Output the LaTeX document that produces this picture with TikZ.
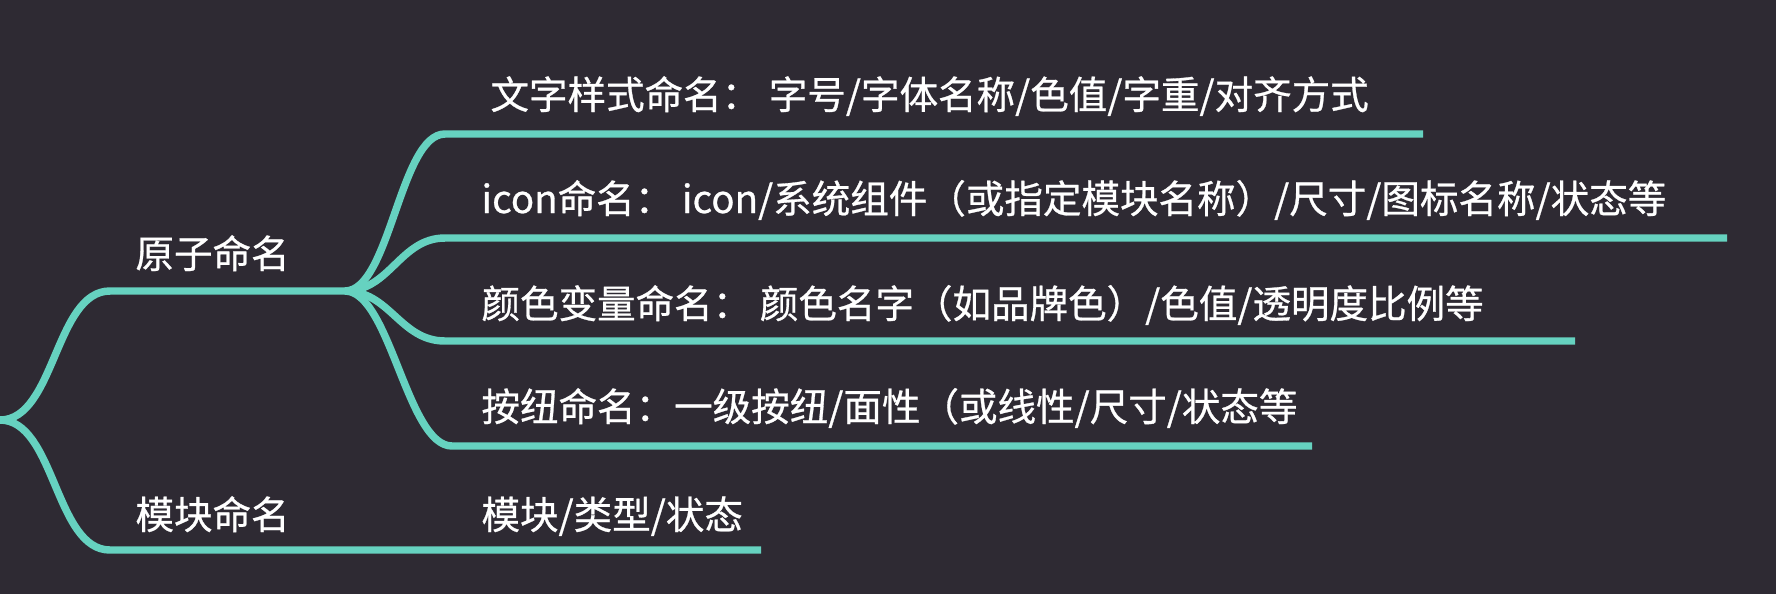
\documentclass[tikz,border=0pt]{standalone}
\usepackage{fontspec}
\setmainfont{Noto Sans CJK SC}[FakeBold=0.7]
\definecolor{bgdark}{RGB}{46,42,51}
\definecolor{branchteal}{RGB}{102,210,192}
\tikzset{every picture/.style={line width=0.75pt}}
\tikzset{
  branch/.style={draw=branchteal, line width=5.6pt, line cap=butt, line join=round},
  label/.style={anchor=base west, inner sep=0pt, text=white, font=\fontsize{28.9}{34}\selectfont}
}

\begin{document}
\begin{tikzpicture}[x=0.75pt,y=0.75pt,yscale=-1,xscale=1]
%Shape: Background
\fill [bgdark] (0,0) rectangle (1776,594);
\useasboundingbox (0,0) rectangle (1776,594);

%Coordinates of the branches
\coordinate (root) at (0,420);
\coordinate (atomS) at (110,291);
\coordinate (atomJ) at (345,291);
\coordinate (moduleS) at (110,550);
\coordinate (moduleE) at (761,550);
\coordinate (textS) at (445,134);   \coordinate (textE) at (1423,134);
\coordinate (iconS) at (445,238);   \coordinate (iconE) at (1727,238);
\coordinate (colorS) at (445,341);  \coordinate (colorE) at (1575,341);
\coordinate (buttonS) at (452,446); \coordinate (buttonE) at (1312,446);

%Curves: main branches
\draw [branch] (root) .. controls +(55,0) and +(-55,0) .. (atomS) -- (atomJ) ;
\draw [branch] (root) .. controls +(55,0) and +(-55,0) .. (moduleS) -- (moduleE) ;
%Curves: sub branches
\draw [branch] (atomJ) .. controls +(45,0) and +(-45,0) .. (textS) -- (textE) ;
\draw [branch] (atomJ) .. controls +(45,0) and +(-45,0) .. (iconS) -- (iconE) ;
\draw [branch] (atomJ) .. controls +(45,0) and +(-45,0) .. (colorS) -- (colorE) ;
\draw [branch] (atomJ) .. controls +(45,0) and +(-45,0) .. (buttonS) -- (buttonE) ;

% Text Node
\draw (135,268) node (atom) [label] {原子命名};
% Text Node
\draw (135,529) node (module) [label] {模块命名};
% Text Node
\draw (490,109) node (textstyle) [label] {文字样式命名： 字号/字体名称/色值/字重/对齐方式};
% Text Node
\draw (481,213) node (iconname) [label] {icon命名： icon/系统组件（或指定模块名称）/尺寸/图标名称/状态等};
% Text Node
\draw (481,318) node (colorvar) [label] {颜色变量命名： 颜色名字（如品牌色）/色值/透明度比例等};
% Text Node
\draw (481,421) node (buttonname) [label] {按纽命名：一级按纽/面性（或线性/尺寸/状态等};
% Text Node
\draw (481,529) node (modulerule) [label] {模块/类型/状态};

\end{tikzpicture}
\end{document}
